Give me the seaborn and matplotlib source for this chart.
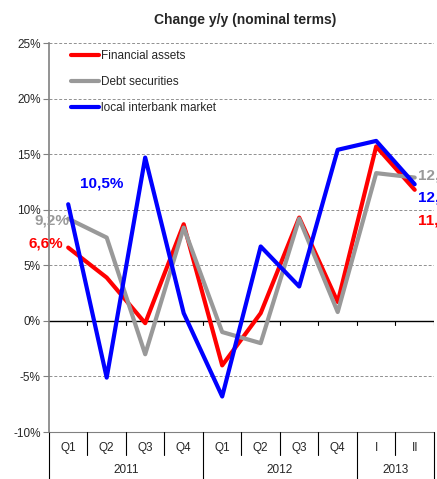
import pandas as pd
import seaborn as sns
import matplotlib.pyplot as plt
from matplotlib.ticker import FuncFormatter

# Data
periods = ["Q1", "Q2", "Q3", "Q4", "Q1", "Q2", "Q3", "Q4", "I", "II"]
years = ["2011", "2012", "2013"]
year_span = [4, 4, 2]
financial_assets = [6.6, 3.9, -0.2, 8.7, -4.0, 0.7, 9.3, 1.7, 15.7, 11.8]
debt_securities = [9.2, 7.5, -3.0, 8.4, -1.0, -2.0, 9.2, 0.8, 13.3, 12.9]
interbank = [10.5, -5.1, 14.7, 0.7, -6.8, 6.7, 3.1, 15.4, 16.2, 12.3]

series_names = ["Financial assets", "Debt securities", "local interbank market"]
colors = ["#ff0000", "#999999", "#0000ff"]

df = pd.concat([
    pd.DataFrame({"pos": range(len(periods)), "value": vals, "series": name})
    for name, vals in zip(series_names, [financial_assets, debt_securities, interbank])
])

sns.set_style("white")
plt.rcParams["font.family"] = ["Liberation Sans", "DejaVu Sans"]

fig = plt.figure(figsize=(4.37, 4.79), dpi=100)
ax = fig.add_axes([0.112, 0.098, 0.881, 0.812])

sns.lineplot(data=df, x="pos", y="value", hue="series", palette=colors,
             hue_order=series_names, linewidth=3, ax=ax, legend=True)

ax.set_xlim(-0.5, len(periods) - 0.5)
ax.set_ylim(-10, 25)
ax.set_yticks(range(-10, 30, 5))
ax.yaxis.set_major_formatter(FuncFormatter(lambda v, p: f"{v:.0f}%"))
ax.tick_params(axis="y", labelsize=8.5, length=4, width=0.8, color="#808080",
               left=True, pad=2)
ax.set_xticks([])
ax.set_xlabel("")
ax.set_ylabel("")
ax.grid(axis="y", linestyle=(0, (3, 2)), color="#909090", linewidth=0.7)
ax.set_axisbelow(True)

for s in ["top", "right", "bottom"]:
    ax.spines[s].set_visible(False)
ax.spines["left"].set_color("#808080")
ax.spines["left"].set_linewidth(1.2)

# zero line with small ticks
ax.axhline(0, color="black", linewidth=1, zorder=1)
for i in range(1, len(periods) + 1):
    ax.plot([i - 0.5, i - 0.5], [0, -0.35], color="black", lw=0.8, zorder=1)

# category axis below
trans = ax.get_xaxis_transform()
ax.plot([-0.5, len(periods) - 0.5], [0, 0], color="#808080", lw=0.8,
        transform=trans, clip_on=False)
for i, lab in enumerate(periods):
    ax.text(i, -0.04, lab, transform=trans, ha="center", va="center", fontsize=8.5)
year_edges = [0]
for n in year_span:
    year_edges.append(year_edges[-1] + n)
for i in range(len(periods) + 1):
    bottom = -0.13 if i in year_edges else -0.059
    ax.plot([i - 0.5, i - 0.5], [0, bottom], color="black", lw=0.8,
            transform=trans, clip_on=False)
for y, a, b in zip(years, year_edges[:-1], year_edges[1:]):
    ax.text((a + b - 1) / 2, -0.098, y, transform=trans, ha="center",
            va="center", fontsize=8.5)

# value labels
ax.text(0.88, 12.4, "10,5%", color=colors[2], fontsize=11, fontweight="bold",
        ha="center", va="center")
ax.text(-0.42, 9.0, "9,2%", color=colors[1], fontsize=11, fontweight="bold",
        ha="center", va="center", clip_on=False)
ax.text(-0.58, 7.0, "6,6%", color=colors[0], fontsize=11, fontweight="bold",
        ha="center", va="center", clip_on=False)
ax.text(9.08, 13.1, "12,9%", color=colors[1], fontsize=11, fontweight="bold",
        ha="left", va="center", clip_on=False)
ax.text(9.08, 11.1, "12,3%", color=colors[2], fontsize=11, fontweight="bold",
        ha="left", va="center", clip_on=False)
ax.text(9.08, 9.0, "11,8%", color=colors[0], fontsize=11, fontweight="bold",
        ha="left", va="center", clip_on=False)

leg = ax.legend(loc="upper left", bbox_to_anchor=(0.03, 1.01), frameon=False,
                fontsize=8.5, handlelength=2.4, handletextpad=0.1,
                labelspacing=1.2)
for line in leg.get_lines():
    line.set_linewidth(3)

fig.suptitle("Change y/y (nominal terms)", x=0.56, y=0.972, fontsize=10,
             fontweight="bold")

fig.savefig("out.png", dpi=100)
